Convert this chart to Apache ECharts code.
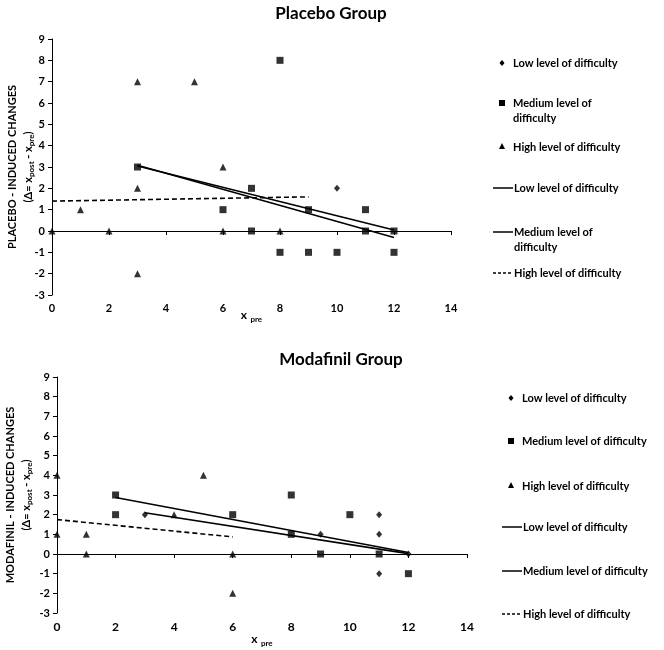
<!DOCTYPE html>
<html>
<head>
<meta charset="utf-8">
<script src="https://cdn.jsdelivr.net/npm/echarts@6/dist/echarts.min.js"></script>
<style>html,body{margin:0;padding:0;background:#fff;}#c{width:664px;height:650px;}</style>
</head>
<body>
<div id="c"></div>
<script>
// ---------- Data ----------
const titles = ['Placebo Group', 'Modafinil Group'];
const xTicks = [0, 2, 4, 6, 8, 10, 12, 14];
const yTicks = [-3, -2, -1, 0, 1, 2, 3, 4, 5, 6, 7, 8, 9];

// Placebo group
const placeboLow = [[10, 2]];
const placeboMedium = [[3, 3], [6, 1], [7, 2], [7, 0], [8, 8], [8, -1], [9, 1], [9, -1], [10, -1], [11, 1], [11, 0], [12, 0], [12, -1]];
const placeboHigh = [[0, 0], [1, 1], [2, 0], [3, 7], [3, 2], [3, -2], [5, 7], [6, 3], [6, 0], [8, 0]];
const placeboLowFit = [[3, 3.08], [12, -0.3]];
const placeboMediumFit = [[3, 3.05], [12, 0.05]];
const placeboHighFit = [[0, 1.4], [9, 1.6]];

// Modafinil group
const modaLow = [[3, 2], [9, 1], [11, 2], [11, 1], [11, -1], [12, 0]];
const modaMedium = [[2, 3], [2, 2], [6, 2], [8, 3], [8, 1], [9, 0], [10, 2], [11, 0], [12, -1]];
const modaHigh = [[0, 4], [0, 1], [1, 1], [1, 0], [4, 2], [5, 4], [6, 0], [6, -2]];
const modaLowFit = [[3, 2.1], [12, 0.02]];
const modaMediumFit = [[2, 2.87], [12, 0.08]];
const modaHighFit = [[0, 1.75], [6, 0.87]];

const legendLabels = ['Low level of difficulty', 'Medium level of difficulty', 'High level of difficulty'];

// ---------- Chart ----------
const FONT = 'Lato';
const chart = echarts.init(document.getElementById('c'), null, {renderer: 'canvas'});

const xRich = {
  n: {fontFamily: FONT, fontWeight: 'bold', fontSize: 12, color: '#000'},
  s: {fontFamily: FONT, fontWeight: 'bold', fontSize: 8, color: '#000', padding: [7, 0, 0, 0]}
};
const yRich = {
  n: {fontFamily: FONT, fontWeight: 'bold', fontSize: 11, color: '#000'},
  s: {fontFamily: FONT, fontWeight: 'bold', fontSize: 8, color: '#000', padding: [6, 0, 0, 0]}
};

function xAxisCfg(gi, labelSize) {
  return {
    gridIndex: gi, type: 'value', min: 0, max: 14, interval: 2,
    name: '{n|x} {s|pre}', nameLocation: 'middle', nameGap: gi === 0 ? 13 : 19,
    nameMoveOverlap: false,
    nameTextStyle: {rich: xRich},
    axisLine: {lineStyle: {color: '#000', width: 1}},
    axisTick: {show: true, length: 4, lineStyle: {color: '#000'}},
    axisLabel: {fontFamily: FONT, fontWeight: 'bold', fontSize: labelSize, color: '#000', margin: 8},
    splitLine: {show: false}
  };
}
function yAxisCfg(gi, line1) {
  return {
    gridIndex: gi, type: 'value', min: -3, max: 9, interval: 1,
    name: '{n|' + line1 + '}\n{n|(Δ= x}{s|post}{n| - x}{s|pre}{n|)}',
    nameLocation: 'middle', nameRotate: 90, nameGap: gi === 0 ? 16 : 23,
    nameMoveOverlap: false,
    nameTextStyle: {rich: yRich, lineHeight: 16, align: 'center'},
    axisLine: {show: true, lineStyle: {color: '#000', width: 1}},
    axisTick: {show: true, length: 4, lineStyle: {color: '#000'}},
    axisLabel: {fontFamily: FONT, fontWeight: 'bold', fontSize: 11, color: '#000', margin: 7},
    splitLine: {show: false}
  };
}

function scatter(gi, data, symbol, size) {
  return {type: 'scatter', xAxisIndex: gi, yAxisIndex: gi, data: data, symbol: symbol, symbolSize: size,
    itemStyle: {color: '#000'}, silent: true, z: 3};
}
function fit(gi, data, dashed) {
  return {type: 'line', xAxisIndex: gi, yAxisIndex: gi, data: data, showSymbol: false, symbol: 'none',
    lineStyle: {color: '#000', width: 1.6, type: dashed ? [5, 3] : 'solid'}, silent: true, z: 2};
}

// legend drawn as graphics
function legendBlock(x0, ys, wrapMedium) {
  const els = [];
  const mx = x0, tx = x0 + 11;
  const txtStyle = (t, y) => ({type: 'text', x: tx, y: y, style: {text: t, font: 'bold 11px ' + FONT, fill: '#000', textVerticalAlign: 'middle', lineHeight: 15}});
  const medText = wrapMedium ? 'Medium level of\ndifficulty' : legendLabels[1];
  els.push({type: 'polygon', shape: {points: [[mx, ys[0] - 3], [mx + 2.5, ys[0]], [mx, ys[0] + 3], [mx - 2.5, ys[0]]]}, style: {fill: '#000'}});
  els.push(txtStyle(legendLabels[0], ys[0]));
  els.push({type: 'rect', shape: {x: mx - 3, y: ys[1] - 3, width: 6, height: 6}, style: {fill: '#000'}});
  els.push({type: 'text', x: tx, y: ys[1] - 7, style: {text: medText, font: 'bold 11px ' + FONT, fill: '#000', textVerticalAlign: 'top', lineHeight: 15}});
  els.push({type: 'polygon', shape: {points: [[mx, ys[2] - 4], [mx + 3, ys[2] + 2], [mx - 3, ys[2] + 2]]}, style: {fill: '#000'}});
  els.push(txtStyle(legendLabels[2], ys[2]));
  const lx1 = x0 - 9, lx2 = x0 + 11;
  els.push({type: 'line', shape: {x1: lx1, y1: ys[3], x2: lx2, y2: ys[3]}, style: {stroke: '#000', lineWidth: 1.5}});
  els.push({type: 'text', x: lx2 + 1, y: ys[3], style: {text: legendLabels[0], font: 'bold 11px ' + FONT, fill: '#000', textVerticalAlign: 'middle'}});
  els.push({type: 'line', shape: {x1: lx1, y1: ys[4], x2: lx2, y2: ys[4]}, style: {stroke: '#000', lineWidth: 1.5}});
  els.push({type: 'text', x: lx2 + 1, y: ys[4] - 7, style: {text: medText, font: 'bold 11px ' + FONT, fill: '#000', textVerticalAlign: 'top', lineHeight: 15}});
  els.push({type: 'line', shape: {x1: lx1, y1: ys[5], x2: lx2, y2: ys[5]}, style: {stroke: '#000', lineWidth: 1.5, lineDash: [3, 2]}});
  els.push({type: 'text', x: lx2 + 1, y: ys[5], style: {text: legendLabels[2], font: 'bold 11px ' + FONT, fill: '#000', textVerticalAlign: 'middle'}});
  return els;
}

const option = {
  backgroundColor: '#fff',
  animation: false,
  title: [
    {text: titles[0], left: 326, top: 0, textAlign: 'center', textStyle: {fontFamily: FONT, fontWeight: 'bold', fontSize: 17, color: '#000'}},
    {text: titles[1], left: 336, top: 346, textAlign: 'center', textStyle: {fontFamily: FONT, fontWeight: 'bold', fontSize: 17, color: '#000'}}
  ],
  grid: [
    {left: 52, top: 39, width: 399, height: 256, containLabel: false, outerBoundsMode: 'none'},
    {left: 57, top: 377, width: 410, height: 236, containLabel: false, outerBoundsMode: 'none'}
  ],
  xAxis: [xAxisCfg(0, 11), xAxisCfg(1, 12)],
  yAxis: [yAxisCfg(0, 'PLACEBO - INDUCED CHANGES'), yAxisCfg(1, 'MODAFINIL - INDUCED CHANGES')],
  series: [
    scatter(0, placeboLow, 'diamond', [6, 7]),
    scatter(0, placeboMedium, 'rect', 7),
    scatter(0, placeboHigh, 'triangle', 7),
    fit(0, placeboLowFit, false),
    fit(0, placeboMediumFit, false),
    fit(0, placeboHighFit, true),
    scatter(1, modaLow, 'diamond', [6, 7]),
    scatter(1, modaMedium, 'rect', 7),
    scatter(1, modaHigh, 'triangle', 7),
    fit(1, modaLowFit, false),
    fit(1, modaMediumFit, false),
    fit(1, modaHighFit, true)
  ],
  graphic: [].concat(
    legendBlock(502, [63, 103, 147, 188, 232, 273], true),
    legendBlock(511, [398, 441, 486, 527, 571, 614], false)
  )
};
chart.setOption(option);
</script>
</body>
</html>
